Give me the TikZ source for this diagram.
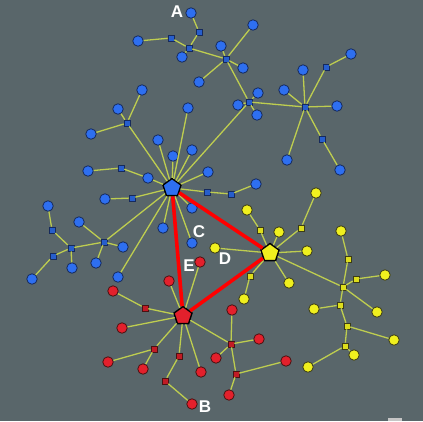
\documentclass[tikz,border=0pt]{standalone}
\usepackage{fontspec}
\setmainfont{Liberation Sans}
\usetikzlibrary{shapes.geometric}
\definecolor{bg}{HTML}{59666A}
\definecolor{edgecol}{HTML}{BECD50}
\definecolor{blufill}{HTML}{2E6FF0}
\definecolor{bluline}{HTML}{162A5C}
\definecolor{redfill}{HTML}{E3202C}
\definecolor{redline}{HTML}{4A1212}
\definecolor{yelfill}{HTML}{F0F01E}
\definecolor{yelline}{HTML}{3C3C16}
\begin{document}
\begin{tikzpicture}[x=1pt,y=-1pt,
  link/.style={draw=edgecol,line width=1.3pt},
  tri/.style={draw=red,line width=3.6pt},
  dot/.style={circle,draw,line width=0.8pt,inner sep=0pt,minimum size=10.5pt},
  sqr/.style={rectangle,draw,line width=0.6pt,inner sep=0pt,minimum size=6pt},
  bc/.style={dot,fill=blufill,draw=bluline},bs/.style={sqr,fill=blufill!85!black,draw=bluline},
  rc/.style={dot,fill=redfill,draw=redline},rs/.style={sqr,fill=redfill!85!black,draw=redline},
  yc/.style={dot,fill=yelfill,draw=yelline},ys/.style={sqr,fill=yelfill!92!black,draw=yelline},
  hub/.style={regular polygon,regular polygon sides=5,draw=black,line width=1.4pt,inner sep=0pt,minimum size=19pt},
  lab/.style={text=white,font=\fontsize{17}{17}\selectfont\bfseries}]
\fill[bg] (0,0) rectangle (423,421);
\useasboundingbox (0,0) rectangle (423,421);
\fill[gray!45] (388,418) rectangle (402,421);
% hubs
\node[hub,fill=blufill] (hb) at (172,188) {};
\node[hub,fill=redfill] (hr) at (183,316) {};
\node[hub,fill=yelfill] (hy) at (270,253) {};
% blue
\foreach \n/\x/\y in {a1/191/13,a5/138/41,a6/182/57,a8/221/46,a9/253/25,a10/243/68,a11/199/82,a13/258/93,a14/238/105,a15/257/115,
  p2/303/70,p3/284/90,p4/337/106,p6/351/54,p7/287/160,p9/340/170,
  b1/142/90,b2/118/109,b4/91/134,b5/188/108,b6/158/140,b7/173/156,b8/192/150,b9/208/172,b12/256/184,b13/192/208,b14/163/228,
  b15/192/243,b16/88/171,b18/148/178,b19/105/199,b21/118/277,l1/48/206,l5/32/279,l6/72/268,l8/79/222,l9/123/247,l10/96/263}
  \node[bc] (\n) at (\x,\y) {};
\foreach \n/\x/\y in {a2/199/32,a3/189/48,a4/171/38,a7/226/59,a12/249/102,p1/305/107,p5/326/67,p8/322/139,
  b3/127/123,b10/207/192,b11/231/194,b17/121/168,b20/132/198,l2/52/230,l3/71/248,l4/53/256,l7/104/242}
  \node[bs] (\n) at (\x,\y) {};
% red
\foreach \n/\x/\y in {r1/200/262,r2/169/281,r3/113/291,r5/122/328,r7/108/362,r8/143/369,r11/192/404,r12/201/372,
  r14/232/310,r15/259/339,r16/216/358,r18/286/361,r19/229/395}
  \node[rc] (\n) at (\x,\y) {};
\foreach \n/\x/\y in {r4/145/308,r6/154/349,r9/179/356,r10/165/381,r13/231/344,r17/236/374}
  \node[rs] (\n) at (\x,\y) {};
% yellow
\foreach \n/\x/\y in {y1/316/193,y3/247/210,y5/279/232,y6/215/248,y7/307/251,y8/289/283,y10/244/299,y12/341/231,
  y15/385/275,y16/377/312,y18/314/309,y20/394/340,y22/354/355,y23/308/367}
  \node[yc] (\n) at (\x,\y) {};
\foreach \n/\x/\y in {y2/301/228,y4/260/230,y9/250/276,y11/343/287,y13/348/259,y14/356/279,y17/340/305,y19/347/326,y21/345/346}
  \node[ys] (\n) at (\x,\y) {};
% links
\foreach \s/\t in {a1/a2,a2/a3,a4/a5,a4/a3,a3/a6,a3/a7,a7/a8,a7/a9,a7/a10,a7/a11,a7/a12,a12/a13,a12/a14,a12/a15,a12/hb,
  a12/p1,p1/p2,p1/p3,p1/p4,p1/p5,p5/p6,p1/p7,p1/p8,p8/p9,
  hb/b3,b3/b1,b3/b2,b3/b4,hb/b5,hb/b6,hb/b7,hb/b8,hb/b9,hb/b10,b10/b11,b11/b12,hb/b13,hb/b14,hb/b15,b16/b17,b17/b18,b18/hb,
  b19/b20,b20/hb,hb/b21,hb/l7,l7/l8,l7/l9,l7/l10,l7/l3,l3/l2,l2/l1,l3/l4,l4/l5,l3/l6,
  hr/r1,hr/r2,hr/r4,r4/r3,hr/r5,hr/r6,r6/r7,r6/r8,hr/r9,r9/r10,r10/r11,hr/r12,hr/r13,r13/r14,r13/r15,r13/r16,r13/r17,r17/r18,r17/r19,
  hy/y2,y2/y1,hy/y4,y4/y3,hy/y5,hy/y6,hy/y7,hy/y8,hy/y9,y9/y10,hy/y11,y11/y13,y13/y12,y11/y14,y14/y15,y11/y16,y11/y17,
  y17/y18,y17/y19,y19/y20,y19/y21,y21/y22,y21/y23}
  \draw[link] (\s)--(\t);
\draw[tri] (hb)--(hy) (hy)--(hr) (hr)--(hb);
% labels
\node[lab] (lA) at (177,12) {A};\node[lab] (lB) at (205,407) {B};\node[lab] (lC) at (199,232) {C};
\node[lab] (lD) at (225,259) {D};\node[lab] (lE) at (189,266) {E};
\end{tikzpicture}
\end{document}
